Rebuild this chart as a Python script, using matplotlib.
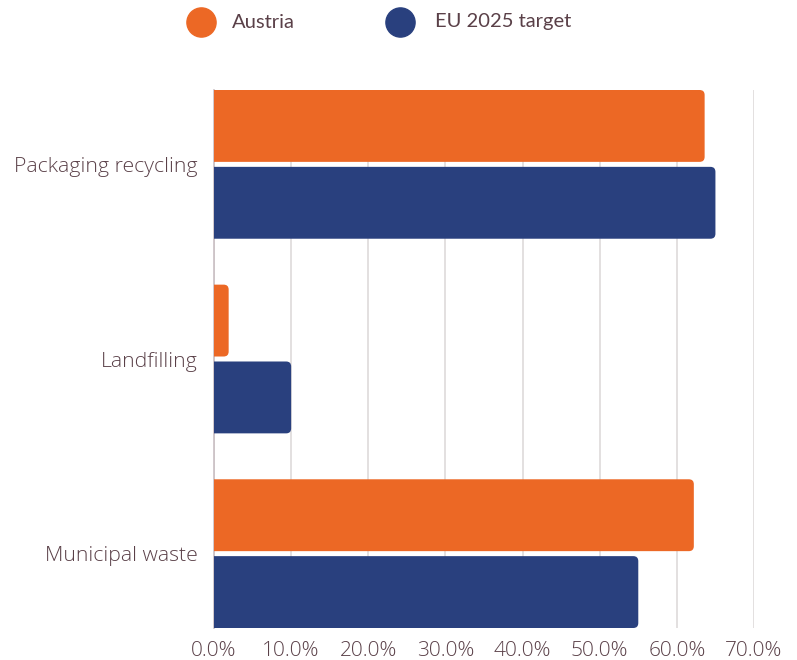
import matplotlib
matplotlib.use("Agg")
import matplotlib.pyplot as plt
from matplotlib.lines import Line2D
from matplotlib.patches import FancyBboxPatch
from matplotlib.ticker import FuncFormatter

plt.rcParams["font.family"] = ["Open Sans", "DejaVu Sans"]
plt.rcParams["font.weight"] = "light"

# dados (%)
categorias = ["Packaging recycling", "Landfilling", "Municipal waste"]
series = ["Austria", "EU 2025 target"]
austria = [63.6, 1.9, 62.2]
eu_meta = [65.0, 10.0, 55.0]
ticks_x = [0, 10, 20, 30, 40, 50, 60, 70]

cores = ["#EC6825", "#29407E"]
cor_texto = "#5a4048"

W, H = 797, 660
fig = plt.figure(figsize=(W / 100, H / 100), dpi=100)
ax = fig.add_axes([214 / W, 32 / H, 540 / W, 538 / H])

altura = 72 / 195
folga = 5 / 195
pos = list(range(len(categorias)))
raio_px = 5
px_x = 540 / 70          # pixels por 1%
px_y = 195               # pixels por categoria

for i, (vals, cor) in enumerate(zip([austria, eu_meta], cores)):
    for p, v in zip(pos, vals):
        if i == 0:
            y0 = p - folga / 2 - altura
        else:
            y0 = p + folga / 2
        rx = raio_px / px_x
        caixa = FancyBboxPatch(
            (-2, y0), v + 2, altura,
            boxstyle=f"round,pad=0,rounding_size={rx}",
            mutation_aspect=(raio_px / px_y) / rx,
            facecolor=cor, edgecolor="none", zorder=3,
        )
        ax.add_patch(caixa)

meio = altura + folga / 2
ax.set_xlim(0, 70)
ax.set_ylim(pos[-1] + meio, pos[0] - meio)
ax.set_xticks(ticks_x)
ax.xaxis.set_major_formatter(FuncFormatter(lambda v, _: f"{v:.1f}%"))
ax.set_yticks(pos)
ax.set_yticklabels(categorias)
ax.tick_params(axis="both", length=0, labelcolor=cor_texto, labelsize=15)
ax.tick_params(axis="x", pad=9)
ax.tick_params(axis="y", pad=11.5)
for t in ax.get_yticklabels():
    t.set_fontsize(15.3)
ax.grid(axis="x", color="#dedada", linewidth=1.2, zorder=0)
ax.set_axisbelow(True)
for lado in ["top", "right", "bottom"]:
    ax.spines[lado].set_visible(False)
ax.spines["left"].set_color("#c9bfc3")
ax.spines["left"].set_linewidth(1.2)

# legenda no topo
leg_x = [201, 400]
leg_texto_x = [232, 435]
for nome, cor, xc, xt in zip(series, cores, leg_x, leg_texto_x):
    fig.add_artist(Line2D([xc / W], [1 - 22 / H], marker="o", markersize=21,
                          color=cor, linestyle="none", transform=fig.transFigure))
    fig.text(xt / W, 1 - 22 / H, nome, ha="left", va="center", fontsize=14.5,
             color=cor_texto, family=["Lato", "DejaVu Sans"], fontweight="normal")

fig.savefig("out.png", dpi=100)
